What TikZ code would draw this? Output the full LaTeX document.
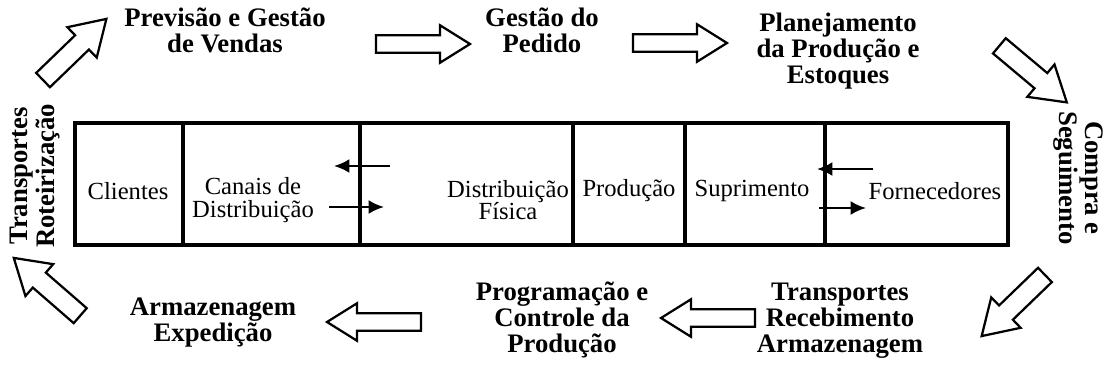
\documentclass[tikz,border=0pt]{standalone}
\usepackage{fontspec}
\setmainfont{Liberation Serif}
\usetikzlibrary{arrows.meta,shapes.arrows}
\tikzstyle{bt}=[font=\fontsize{19}{18.5}\selectfont\bfseries,align=center,inner sep=0pt]
\tikzstyle{ct}=[font=\fontsize{17.5}{16}\selectfont,align=center,inner sep=0pt]
\tikzstyle{ba}=[single arrow,draw=black,line width=1.6pt,fill=white,inner xsep=0pt,
  inner ysep=0.19cm,single arrow head extend=0.25cm,single arrow tip angle=64,minimum height=2.35cm]
\tikzstyle{da}=[ba,inner ysep=0.22cm,single arrow head extend=0.28cm,minimum height=2.2cm]
\tikzstyle{sa}=[line width=1.7pt,-{Latex[length=11pt,width=10pt]}]
\tikzstyle{none}=[]

\begin{document}
\begin{tikzpicture}[x=0.025cm,y=-0.025cm]
            \useasboundingbox (0,0) rectangle (1104,369);
            \draw [line width=2.4pt] (75,123) rectangle (1008,245);
            \foreach \x in {183,360,573,685,825}
                \draw [line width=2.4pt] (\x,123) -- (\x,245);
            \node [style=ct] (0) at (128,191) {Clientes};
            \node [style=ct] (1) at (253,200) {Canais de\\Distribuição};
            \node [style=ct] (2) at (508,200) {Distribuição\\Física};
            \node [style=ct] (3) at (629,191) {Produção};
            \node [style=ct] (4) at (752,191) {Suprimento};
            \node [style=ct] (5) at (935,191) {Fornecedores};
            \coordinate (6) at (390,166);
            \coordinate (7) at (334,166);
            \coordinate (8) at (329,207);
            \coordinate (9) at (384,207);
            \coordinate (10) at (873,169);
            \coordinate (11) at (817,169);
            \coordinate (12) at (819,208);
            \coordinate (13) at (866,208);
            \draw [style=sa] (6) to (7);
            \draw [style=sa] (8) to (9);
            \draw [style=sa] (10) to (11);
            \draw [style=sa] (12) to (13);
            \node [style=bt] (14) at (225,30) {Previsão e Gestão\\de Vendas};
            \node [style=bt] (15) at (542,30) {Gestão do\\Pedido};
            \node [style=bt] (16) at (838,51) {Planejamento\\da Produção e\\Estoques};
            \node [style=bt] (17) at (213,323) {Armazenagem\\Expedição};
            \node [style=bt] (18) at (562,320) {Programação e\\Controle da\\Produção};
            \node [style=bt] (19) at (840,321) {Transportes\\Recebimento\\Armazenagem};
            \node [style=bt,rotate=90] (20) at (35,176) {Transportes\\Roteirização};
            \node [style=bt,rotate=-90] (21) at (1078,178) {Compra e\\Seguimento};
            \node [style=ba] (22) at (416,44) {};
            \node [style=ba] (23) at (673,43) {};
            \node [style=ba,rotate=180] (24) at (381,322) {};
            \node [style=ba,rotate=180] (25) at (715,318) {};
            \node [style=da,rotate=44] (26) at (69,55) {};
            \node [style=da,rotate=-40] (27) at (1027,69) {};
            \node [style=da,rotate=-136] (28) at (1019,300) {};
            \node [style=da,rotate=139] (29) at (53,292) {};
\end{tikzpicture}
\end{document}
